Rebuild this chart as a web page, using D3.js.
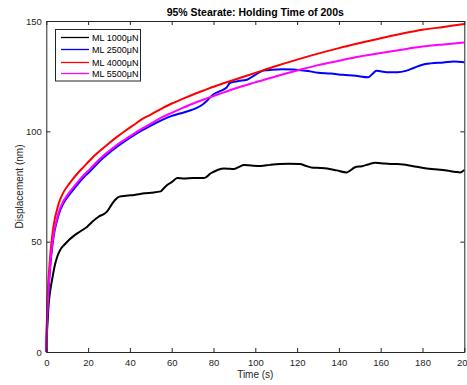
<!DOCTYPE html>
<html>
<head>
<meta charset="utf-8">
<script src="https://cdnjs.cloudflare.com/ajax/libs/d3/7.8.5/d3.min.js"></script>
<style>
  body { margin: 0; background: #fff; }
  svg { display: block; font-family: "Liberation Sans", Arial, Helvetica, sans-serif; }
  .axis text { fill: #262626; font-size: 9.5px; }
  .axis line, .axis path { stroke: #262626; }
</style>
</head>
<body>
<div id="chart"></div>
<script>
// data
var seriesNames = ["ML 1000\u03bcN", "ML 2500\u03bcN", "ML 4000\u03bcN", "ML 5500\u03bcN"];
var seriesColors = ["#000000", "#0000ff", "#ff0000", "#ff00ff"];

var tBlack = [0,0.3,0.7,1,1.5,2,3,4,5,6,7,8.5,10,13,16,19.6,22,25,28,29,31.4,33,35,38,40.4,44,47,50,54.7,56,58,60,62.7,66,70,75.5,78.7,82,85,88,89.8,92,94.6,98,102.6,107,111.8,116,121.4,124,127.6,131,134.3,139,143.8,145,147.7,151,154,157.3,162,166,170.7,175,178,182,186,191.6,196,198,200];
var vBlack = [0,8,15,20,25,28.5,34,39,42.5,45,46.8,48.5,50,52.5,54.5,56.8,59,61.3,62.8,63.6,67,69,70.4,70.8,71,71.5,71.9,72.2,72.8,74,75.8,77,78.8,78.6,78.9,78.8,81,82.5,83.2,83,82.9,83.8,84.7,84.5,84.3,84.8,85.2,85.3,85.2,84.4,83.5,83.4,83.2,82.3,81.4,82,83.7,84.2,85,85.8,85.4,85.2,85,84.3,83.8,83.2,82.8,82.2,81.6,81.4,82.5];

var tBlue = [0,0.3,0.7,1,1.5,2,3,4,5,6,8,10,12,15,18,21,24,27,30,34,38,42,46,50,55,60,64,68,72,75,77,80,83,86,88,92,96,100,104,108,113,118,124,130,136,142,148,154,156,158,163,168,172,176,180,184,190,195,200];
var vBlue = [0,11.5,21,27,34,40,49,55,59,62.5,67,70,72.5,76,79.3,82,85,87.8,90.2,93.2,95.8,98.3,100.5,102.6,105,107,108.1,109.2,110.6,112.3,114,116.8,118.2,119.6,122,122.8,123.4,125.6,127.6,127.9,128.1,128,127.5,126.6,126.2,125.6,125.2,124.5,126,127.4,126.8,126.8,127.4,128.8,130.2,130.8,131.2,131.6,131.3];

var tRed = [0,0.3,0.7,1,1.5,2,3,4,5,6,8,10,12,15,18,21,24,27,30,34,38,42,46,50,55,60,65,70,75,80,90,100,110,120,130,140,150,160,170,180,190,200];
var vRed = [0,15,26,32,39,45,54,60,64,67.5,72,75,77.5,81,84,87,89.8,92.2,94.6,97.6,100.4,103,105.6,107.6,110.2,112.6,114.6,116.6,118.4,120.2,123.4,126.5,129.6,132.5,135.2,137.7,140,142.2,144.2,146,147.3,148.6];

var tMagenta = tRed;
var vMagenta = [0,12,22,28,35,41,50,56,60,63.5,68,71,73.5,77,80.2,83,86,88.7,91,94,96.5,99,101.3,103.5,106.2,108.4,110.5,112.5,114.3,116,119.3,122.2,125,127.6,130,132,133.9,135.5,137,138.4,139.4,140.3];

var xTicks = [0,20,40,60,80,100,120,140,160,180,200];
var yTicks = [0,50,100,150];

var W = 467, H = 385;
var plotLeft = 46.3, plotRight = 464.3, plotTop = 21, plotBottom = 352;

var svg = d3.select("#chart").append("svg").attr("width", W).attr("height", H);

var x = d3.scaleLinear().domain([0, 200]).range([plotLeft, plotRight]);
var y = d3.scaleLinear().domain([0, 150]).range([plotBottom, plotTop]);

var series = [
  { t: tBlack, v: vBlack },
  { t: tBlue, v: vBlue },
  { t: tRed, v: vRed },
  { t: tMagenta, v: vMagenta }
];

var line = d3.line()
  .x(function (d) { return x(d[0]); })
  .y(function (d) { return y(d[1]); })
  .curve(d3.curveMonotoneX);

// draw black first, then blue, red, magenta (matlab draw order)
series.forEach(function (s, i) {
  var pts = s.t.map(function (t, j) { return [t, s.v[j]]; });
  svg.append("path")
    .datum(pts)
    .attr("fill", "none")
    .attr("stroke", seriesColors[i])
    .attr("stroke-width", 2)
    .attr("stroke-linejoin", "round")
    .attr("d", line);
});

// axes, ticks pointing inward like matlab
svg.append("g").attr("class", "axis").attr("transform", "translate(0," + plotBottom + ")")
  .call(d3.axisBottom(x).tickValues(xTicks).tickSize(-4).tickSizeOuter(0).tickPadding(7));
svg.append("g").attr("class", "axis").attr("transform", "translate(0," + plotTop + ")")
  .call(d3.axisTop(x).tickValues(xTicks).tickSize(-4).tickSizeOuter(0).tickFormat(""));
svg.append("g").attr("class", "axis").attr("transform", "translate(" + plotLeft + ",0)")
  .call(d3.axisLeft(y).tickValues(yTicks).tickSize(-4).tickSizeOuter(0).tickPadding(4.5));
svg.append("g").attr("class", "axis").attr("transform", "translate(" + plotRight + ",0)")
  .call(d3.axisRight(y).tickValues(yTicks).tickSize(-4).tickSizeOuter(0).tickFormat(""));

// title and labels
svg.append("text").attr("x", (plotLeft + plotRight) / 2).attr("y", 15.5)
  .attr("text-anchor", "middle").attr("font-weight", "bold").attr("font-size", "10.5px")
  .attr("fill", "#000").text("95% Stearate: Holding Time of 200s");
svg.append("text").attr("x", (plotLeft + plotRight) / 2).attr("y", 378)
  .attr("text-anchor", "middle").attr("font-size", "10px").attr("fill", "#262626")
  .text("Time (s)");
svg.append("text").attr("transform", "translate(23," + ((plotTop + plotBottom) / 2) + ") rotate(-90)")
  .attr("text-anchor", "middle").attr("font-size", "10px").attr("fill", "#262626")
  .text("Displacement (nm)");

// legend
var lg = svg.append("g");
lg.append("rect").attr("x", 55.5).attr("y", 29.5).attr("width", 85).attr("height", 51.5)
  .attr("fill", "#fff").attr("stroke", "#262626").attr("stroke-width", 1);
var rowY = [37.5, 49.5, 62.5, 73.5];
seriesNames.forEach(function (name, i) {
  lg.append("line").attr("x1", 61).attr("x2", 89).attr("y1", rowY[i]).attr("y2", rowY[i])
    .attr("stroke", seriesColors[i]).attr("stroke-width", 1.3);
  lg.append("text").attr("x", 92).attr("y", rowY[i]).attr("dy", "0.35em")
    .attr("font-size", "9px").attr("fill", "#000").text(name);
});
</script>
</body>
</html>
